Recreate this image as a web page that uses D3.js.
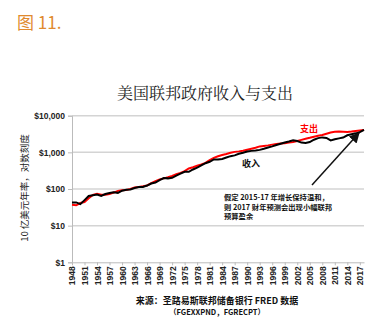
<!DOCTYPE html>
<html><head><meta charset="utf-8">
<script src="https://cdnjs.cloudflare.com/ajax/libs/d3/7.8.5/d3.min.js"></script>
<style>body{margin:0;background:#fff}svg{display:block}</style>
</head><body>
<script>
const years = d3.range(1948, 2019);
const spending = [37,36,41.4,44,56,69,74,70,70,73,80,89,92,94,101,110,114,119,125,144,164,183,195,209,227,253,274,307,364,393,430,470,518,616,709,785,849,903,971,1030,1063,1109,1182,1259,1340,1452,1500,1549,1626,1689,1746,1781,1842,1921,2033,2194,2363,2495,2678,2824,2971,3219,3491,3652,3701,3654,3614,3707,3842,3950,4050];
const receipts = [43,43,38.5,49.7,64.5,67.5,70.8,64.5,73,78,82,78.5,90,95,97,106,113,114,124,141,150,174,199,195,202,233,262,294,294,341,385,440,506,553,639,635,660,726,788,827,913,972,1052,1097,1123,1169,1250,1355,1452,1580,1722,1853,1974,2141,2040,1846,1810,1913,2214,2445,2560,2471,2125,2284,2405,2537,2925,3117,3300,3550,4100];
const yTicks = [1,10,100,1000,10000];
const yTickLabels = ["$1","$10","$100","$1,000","$10,000"];
const xTicks = d3.range(1948, 2018, 3);
const title = "美国联邦政府收入与支出";
const figLabel = "图 11.";
const yLabel = "10 亿美元年率，对数刻度";
const note = ["假定 2015-17 年增长保持温和，","则 2017 财年预测会出现小幅联邦","预算盈余"];
const source = ["来源：圣路易斯联邦储备银行 FRED 数据","（FGEXXPND，FGRECPT）"];

const W=385,H=331;
const svg=d3.select("body").append("svg").attr("width",W).attr("height",H);
const x=d3.scaleLinear().domain([1948,2018]).range([72,364]);
const y=d3.scaleLog().domain([1,10000]).range([262.3,115.7]);
const cjk="'Noto Sans CJK SC','Noto Sans',sans-serif";

svg.append("text").attr("x",17).attr("y",29).attr("fill","#e08a2e")
  .style("font-family",cjk).style("font-size","17px").text(figLabel);
svg.append("text").attr("x",205).attr("y",99).attr("text-anchor","middle")
  .style("font-family","'Noto Serif CJK SC',"+cjk).style("font-size","16px").attr("fill","#222").text(title);

// grid
svg.append("g").selectAll("line").data(yTicks.slice(1)).join("line")
  .attr("x1",72).attr("x2",364).attr("y1",d=>y(d)).attr("y2",d=>y(d))
  .attr("stroke","#d4d4d4").attr("stroke-width",1.5);
// axes
const yAxis=d3.axisLeft(y).tickValues(yTicks).tickFormat((d,i)=>yTickLabels[i]).tickSize(4).tickPadding(3);
const gy=svg.append("g").attr("transform","translate(72,0)").call(yAxis);
gy.select(".domain").attr("stroke","#bbb");
gy.selectAll(".tick line").attr("stroke","#bbb");
gy.selectAll("text").style("font-family","'Liberation Sans',Arial,sans-serif").style("font-weight","bold").style("font-size","8.5px").attr("fill","#222");

const xAxis=d3.axisBottom(x).tickValues(xTicks).tickFormat(d3.format("d")).tickSize(3).tickSizeOuter(0);
const gx=svg.append("g").attr("transform","translate(0,262.3)").call(xAxis);
gx.select(".domain").attr("stroke","#bbb");
gx.selectAll(".tick line").attr("stroke","#bbb");
gx.selectAll("text").attr("transform","rotate(-90)").attr("text-anchor","end")
  .attr("x",-4).attr("y",0).attr("dy","0.35em")
  .style("font-family","'Liberation Sans',Arial,sans-serif").style("font-weight","bold").style("font-size","8.5px").attr("fill","#222");

// y label
svg.append("text").attr("transform","translate(28,188) rotate(-90)").attr("text-anchor","middle")
  .style("font-family",cjk).style("font-size","9.5px").attr("fill","#222").text(yLabel);

// lines
const line=d3.line().x((d,i)=>x(years[i])).y(d=>y(d));
svg.append("path").datum(spending).attr("d",line).attr("fill","none").attr("stroke","#ff0000").attr("stroke-width",2);
svg.append("path").datum(receipts).attr("d",line).attr("fill","none").attr("stroke","#000").attr("stroke-width",2);

svg.append("text").attr("x",300).attr("y",131.5).attr("fill","#ff0000")
  .style("font-family",cjk).style("font-weight","bold").style("font-size","9px").text("支出");
svg.append("text").attr("x",242).attr("y",166.5).attr("fill","#111")
  .style("font-family",cjk).style("font-weight","bold").style("font-size","9px").text("收入");

// arrow
svg.append("defs").append("marker").attr("id","ah").attr("viewBox","0 0 10 10").attr("refX",9).attr("refY",5)
  .attr("markerWidth",7).attr("markerHeight",7).attr("orient","auto")
  .append("path").attr("d","M0,0L10,5L0,10z").attr("fill","#111");
svg.append("line").attr("x1",312).attr("y1",185).attr("x2",359).attr("y2",133)
  .attr("stroke","#111").attr("stroke-width",1.5).attr("marker-end","url(#ah)");

svg.append("g").selectAll("text").data(note).join("text")
  .attr("x",224).attr("y",(d,i)=>200+i*9.5).attr("fill","#111")
  .style("font-family",cjk).style("font-weight","bold").style("font-size","7.3px").text(d=>d);

svg.append("g").selectAll("text").data(source).join("text")
  .attr("x",217).attr("y",(d,i)=>i?314.5:303.5).attr("text-anchor","middle").attr("fill","#111")
  .style("font-family",cjk).style("font-weight","bold").style("font-size",(d,i)=>i?"7.5px":"9px").text(d=>d);
</script>
</body></html>
